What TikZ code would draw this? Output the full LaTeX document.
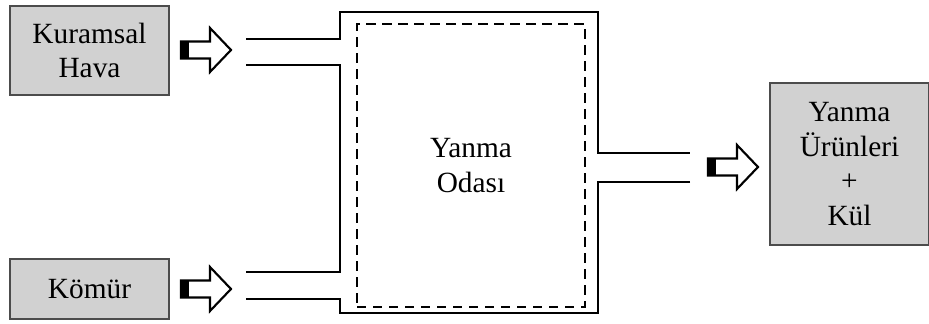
\documentclass[tikz,border=0pt]{standalone}
\usepackage{fontspec}
\setmainfont{Liberation Serif}
\usetikzlibrary{positioning}

\tikzset{
  feedbox/.style={draw=black!70, fill=black!18, line width=1pt, align=center,
    inner sep=0pt, font=\fontsize{22}{26}\selectfont},
  wall/.style={line width=2pt, line join=miter},
  flowarrow/.style={draw, line width=1.6pt, fill=white, line join=miter}
}

% block arrow: tail centre at (#2), black plug at the tail
\newcommand{\flowarrow}[2]{%
  \coordinate (#1) at (#2);
  \filldraw[flowarrow] (#1) ++(0,8.5) -- ++(29,0) -- ++(0,13.5) -- ++(21,-22)
    -- ++(-21,-22) -- ++(0,13.5) -- ++(-29,0) -- cycle;
  \fill (#1) ++(0,8.5) rectangle ++(8,-17);
}

\begin{document}
\begin{tikzpicture}[x=0.75pt, y=-0.75pt]
  \useasboundingbox (0,0) rectangle (929,324);

  % inputs and output
  \node (hava)   at (89.5,50.5)  [feedbox, minimum width=119.25pt, minimum height=66.75pt] {Kuramsal\\Hava};
  \node (komur)  at (89.5,289)   [feedbox, minimum width=119.25pt, minimum height=45pt] {K\"om\"ur};
  \node (urunler) at (849.5,164) [feedbox, minimum width=119.25pt, minimum height=121.5pt] {Yanma\\\"Ur\"unleri\\+\\K\"ul};

  % combustion chamber
  \node (oda) at (471,165.5) [draw, dashed, line width=1.5pt, dash pattern=on 7pt off 5pt,
    minimum width=171pt, minimum height=212pt, align=center,
    font=\fontsize{22}{26}\selectfont] {Yanma\\Odas\i};

  \draw[wall] (246,39) -- (340,39) -- (340,12) -- (598,12) -- (598,153) -- (690,153);
  \draw[wall] (690,182) -- (598,182) -- (598,313) -- (340,313) -- (340,299) -- (246,299);
  \draw[wall] (246,272) -- (340,272) -- (340,65) -- (246,65);

  \flowarrow{havaok}{181,50}
  \flowarrow{komurok}{181,289}
  \flowarrow{urunok}{708,167}
\end{tikzpicture}
\end{document}
